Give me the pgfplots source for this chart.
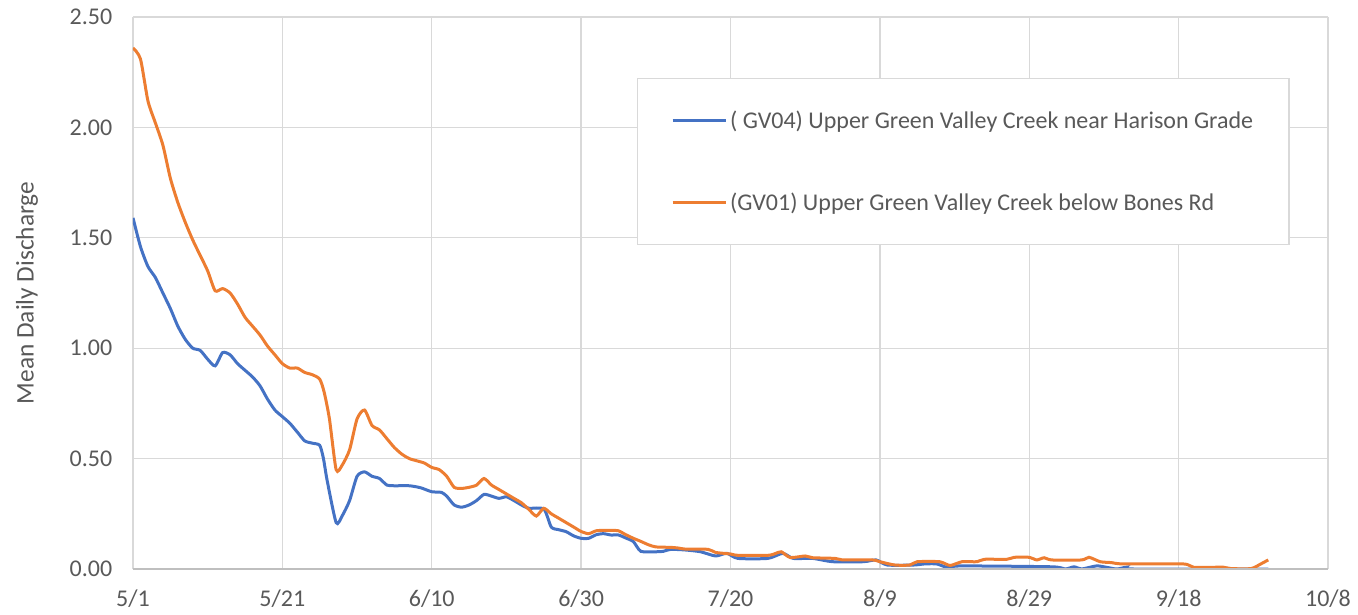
\documentclass[border=0pt]{standalone}
\usepackage{pgfplots}
\pgfplotsset{compat=1.18}
\usepackage{fontspec}
\setmainfont{Carlito}
\definecolor{xlblue}{HTML}{4472C4}
\definecolor{xlorange}{HTML}{ED7D31}
\definecolor{gridgray}{HTML}{D9D9D9}
\definecolor{axgray}{HTML}{BFBFBF}
\definecolor{txtgray}{HTML}{595959}
\begin{document}
\begin{tikzpicture}
\begin{axis}[
  name=main,
  scale only axis,
  width=896.25pt, height=414pt,
  xmin=0, xmax=160, ymin=0, ymax=2.5,
  xtick={0,20,40,60,80,100,120,140,160},
  xticklabels={5/1,5/21,6/10,6/30,7/20,8/9,8/29,9/18,10/8},
  ytick={0,0.5,1,1.5,2,2.5},
  yticklabel style={/pgf/number format/fixed, /pgf/number format/fixed zerofill, /pgf/number format/precision=2, xshift=-12pt},
  /pgf/number format/assume math mode=true,
  tick label style={font=\fontsize{18}{20}\selectfont, text=txtgray},
  xticklabel style={yshift=-12pt},
  ylabel={Mean Daily Discharge},
  ylabel style={font=\fontsize{19}{21}\selectfont, text=txtgray},
  ylabel shift=17pt,
  major tick length=0pt,
  grid=major,
  grid style={gridgray, line width=1pt},
  axis line style={draw=none},
  legend style={at={(0.4218,0.8895)}, anchor=north west, draw=gridgray, line width=1pt,
    fill=white, font=\fontsize{18}{20}\selectfont, text=txtgray,
    inner xsep=25pt, inner ysep=22pt, row sep=43pt},
  legend cell align=left,
  legend image code/.code={\draw[#1, line width=2.25pt] (0pt,0pt) -- (40pt,0pt);},
]
\addplot[xlblue, line width=2.25pt, smooth, tension=0.4] coordinates {
(0,1.59)(1,1.46)(2,1.37)(3,1.32)(4,1.25)(5,1.18)(6,1.10)(7,1.04)(8,1.00)(9,0.99)
(10,0.95)(11,0.92)(12,0.98)(13,0.97)(14,0.93)(15,0.90)(16,0.87)(17,0.83)(18,0.77)(19,0.72)
(20,0.69)(21,0.66)(22,0.62)(23,0.58)(24,0.57)(25,0.56)(25.5,0.50)(26,0.40)(27.2,0.21)(28,0.24)
(29,0.31)(30,0.42)(31,0.44)(32,0.42)(33,0.41)(34,0.38)(35,0.377)(37,0.377)(38.5,0.368)(40,0.35)
(41.3,0.347)(42,0.33)(43,0.29)(44,0.28)(45,0.29)(46,0.31)(47,0.338)(48,0.33)(49,0.32)(50,0.327)
(51,0.31)(52,0.29)(53,0.275)(55,0.272)(56,0.19)(57,0.178)(58,0.169)(59,0.15)(60,0.139)(61,0.139)
(62,0.155)(63,0.16)(64,0.154)(65,0.154)(66,0.14)(67,0.124)(68,0.08)(70,0.078)(71,0.08)(72,0.089)
(74,0.086)(76,0.078)(78,0.059)(79.5,0.071)(81,0.048)(85,0.048)(87,0.071)(88.4,0.048)(91,0.048)(93.7,0.033)
(97.8,0.033)(99.5,0.041)(101,0.018)(104.5,0.018)(106,0.023)(107.6,0.023)(109,0.008)(111,0.014)(123,0.01)(124.8,0.0)
(126,0.01)(127,0.0)(129,0.014)(130.3,0.008)(131.7,0.0)(133,0.008)(134,0.0)(152,0.0)
};
\addlegendentry{( GV04) Upper Green Valley Creek near Harison Grade}
\addplot[xlorange, line width=2.25pt, smooth, tension=0.4] coordinates {
(0,2.36)(1,2.31)(2,2.12)(3,2.02)(4,1.92)(5,1.77)(6,1.66)(7,1.57)(8,1.49)(9,1.42)
(10,1.35)(11,1.26)(12,1.27)(13,1.25)(14,1.20)(15,1.14)(16,1.10)(17,1.06)(18,1.01)(19,0.97)
(20,0.93)(21,0.91)(22,0.91)(23,0.89)(24,0.88)(25,0.86)(25.6,0.80)(26.3,0.68)(27.2,0.45)(28,0.47)
(29,0.54)(30,0.68)(31,0.72)(32,0.65)(33,0.63)(34,0.59)(35,0.55)(36,0.52)(37,0.50)(38,0.49)
(39,0.48)(40,0.46)(41,0.45)(42,0.42)(43,0.37)(44,0.365)(45,0.37)(46,0.38)(47,0.41)(48,0.38)
(49,0.36)(50,0.34)(51,0.32)(52,0.30)(53,0.27)(54,0.24)(55,0.275)(56,0.25)(57,0.23)(58,0.21)
(59,0.19)(60,0.17)(61,0.16)(62,0.173)(63,0.175)(64,0.175)(65,0.173)(66,0.155)(67,0.139)(68,0.125)
(69,0.11)(70,0.10)(72,0.098)(73,0.095)(74,0.09)(77,0.089)(78,0.075)(80,0.068)(81,0.062)(85,0.062)
(86,0.07)(86.8,0.078)(88,0.052)(90,0.059)(91,0.051)(94,0.048)(95,0.041)(99,0.041)(100,0.033)(102,0.018)
(104,0.018)(105,0.033)(108,0.033)(109.4,0.016)(111,0.033)(113,0.033)(114,0.044)(117,0.044)(118,0.053)(120,0.053)
(121,0.041)(122,0.051)(123,0.041)(127,0.041)(128,0.053)(129.5,0.033)(131,0.029)(132.6,0.023)(140.6,0.023)(142,0.008)
(146,0.008)(147,0.002)(149.7,0.002)(151,0.023)(152,0.041)
};
\addlegendentry{(GV01) Upper Green Valley Creek below Bones Rd}
\draw[axgray, line width=1.2pt] (axis cs:0,0) -- (axis cs:160,0);
\end{axis}
\pgfresetboundingbox
\path[use as bounding box] ([shift={(-99.75pt,-33.75pt)}]main.south west) rectangle ([shift={(22.5pt,12.75pt)}]main.north east);
\end{tikzpicture}
\end{document}
